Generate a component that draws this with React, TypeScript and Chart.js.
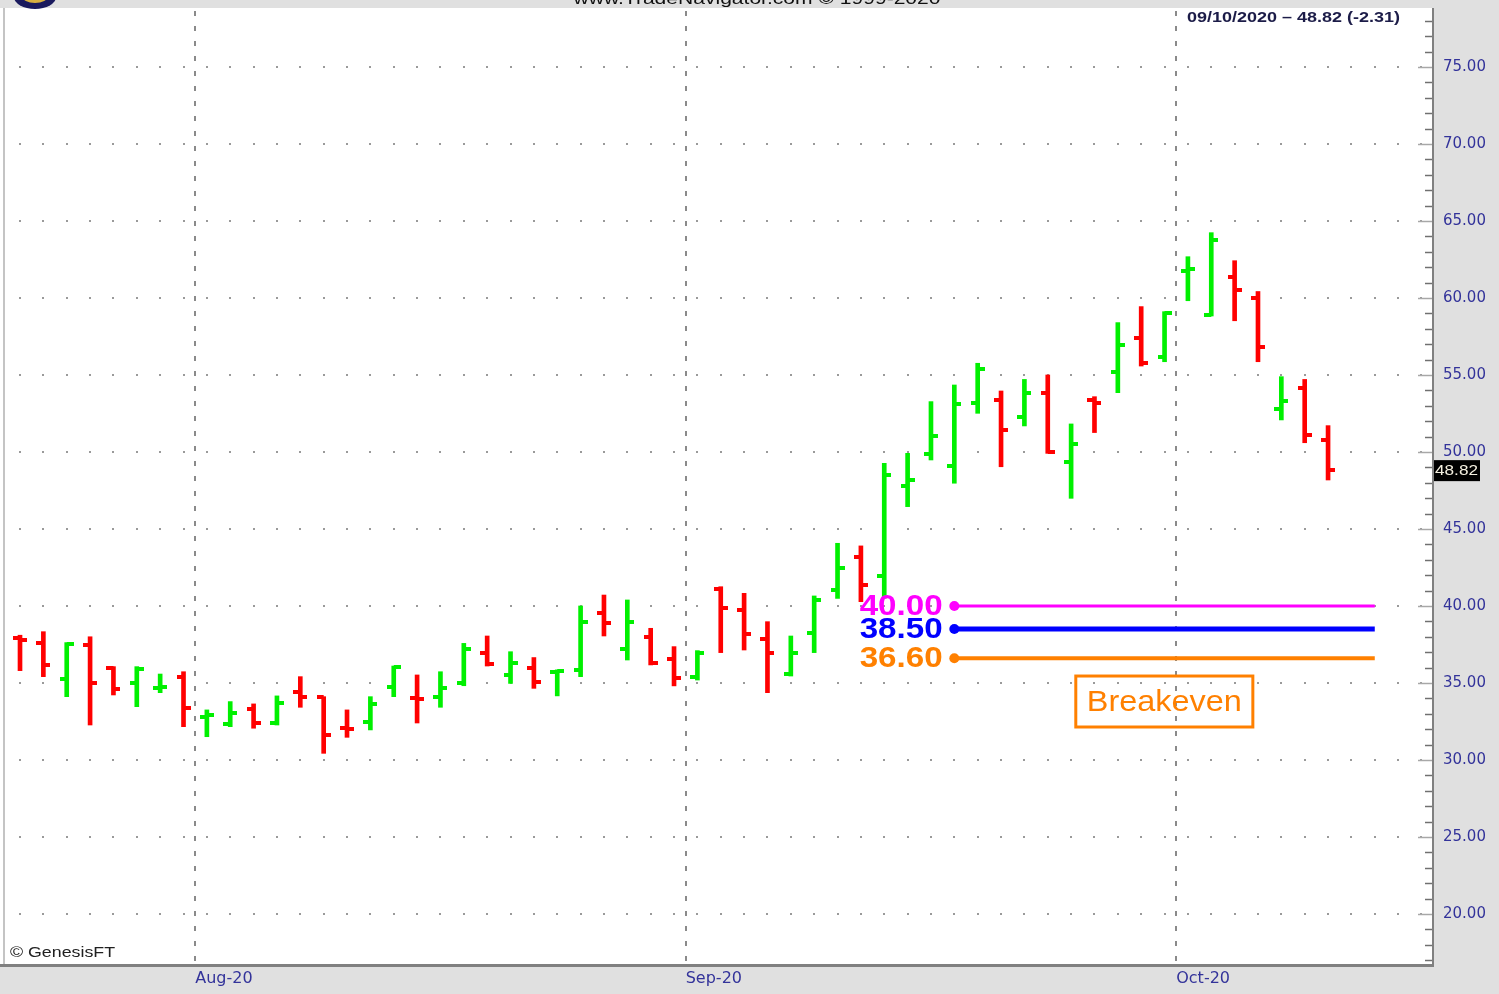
import React, { useEffect, useRef } from 'react';
import { Chart, registerables } from 'chart.js';
Chart.register(...registerables);

// ---- Data (daily OHLC, Jul 21 2020 - Oct 9 2020) ----
const opens = [37.95, 37.62, 35.26, 37.47, 36.0, 34.98, 34.65, 35.41, 32.81, 32.34, 33.29, 32.42, 34.44, 34.07, 32.1, 32.49, 34.76, 34.05, 34.11, 34.97, 36.97, 35.52, 35.95, 35.7, 35.84, 39.56, 37.18, 37.96, 36.53, 35.41, 41.08, 39.74, 37.86, 35.58, 38.22, 41.04, 43.2, 41.95, 47.79, 49.87, 49.09, 53.21, 53.38, 52.29, 53.85, 49.37, 53.4, 55.17, 57.38, 56.14, 61.75, 58.9, 61.38, 59.98, 52.77, 54.13, 50.78];
const highs = [38.1, 38.33, 37.62, 38.0, 36.06, 36.06, 35.58, 35.73, 33.25, 33.79, 33.64, 34.16, 35.41, 34.11, 33.25, 34.11, 36.1, 35.52, 35.73, 37.57, 38.05, 37.03, 36.65, 35.85, 40.0, 40.71, 40.39, 38.55, 37.36, 37.1, 41.25, 40.82, 38.98, 38.05, 40.65, 44.07, 43.9, 49.26, 49.91, 53.27, 54.35, 55.76, 53.96, 54.71, 55.0, 51.82, 53.59, 58.4, 59.44, 59.11, 62.68, 64.24, 62.42, 60.42, 54.89, 54.71, 51.71];
const lows = [35.8, 35.41, 34.11, 32.27, 34.22, 33.46, 34.37, 32.16, 31.51, 32.16, 32.06, 32.27, 33.42, 30.43, 31.47, 31.95, 34.11, 32.4, 33.42, 34.82, 36.1, 34.97, 34.65, 34.16, 35.41, 38.05, 36.49, 36.17, 34.81, 35.19, 36.97, 37.14, 34.37, 35.45, 36.97, 40.49, 40.28, 40.5, 46.45, 49.48, 47.97, 52.51, 49.04, 51.69, 49.91, 46.99, 51.26, 53.85, 55.58, 55.86, 59.82, 58.83, 58.52, 55.86, 52.08, 50.6, 48.18];
const closes = [37.8, 36.17, 37.51, 35.02, 34.59, 35.89, 34.72, 33.35, 32.92, 33.03, 32.42, 33.68, 34.07, 31.62, 32.0, 33.64, 36.06, 33.94, 34.65, 37.18, 36.23, 36.32, 35.08, 35.8, 38.98, 38.87, 38.98, 36.28, 35.3, 36.92, 39.85, 38.18, 36.92, 36.92, 40.39, 42.45, 41.36, 48.5, 48.18, 51.04, 53.12, 55.36, 51.43, 53.85, 50.01, 50.5, 53.21, 56.95, 55.75, 59.0, 61.85, 63.77, 60.52, 56.79, 53.34, 51.13, 48.82];

const monthLabels = ['Aug-20', 'Sep-20', 'Oct-20'];
const monthBoundaries = [7.5, 28.5, 49.5];
const yLabelValues = [20, 25, 30, 35, 40, 45, 50, 55, 60, 65, 70, 75];

const levelValues = [40.0, 38.5, 36.6];
const levelColors = ['#ff00ff', '#0000ff', '#ff8000'];
const levelWidths = [3, 5, 4];
const levelStart = 40;
const levelEnd = 58;
const levelLabelX = 39.5;

const breakevenText = 'Breakeven';
const headerText = '09/10/2020 \u2013 48.82 (-2.31)';
const titleText = 'www.TradeNavigator.com \u00a9 1999-2020';
const creditText = '\u00a9 GenesisFT';
const lastPrice = 48.82;

const yMin = 16.75;
const yMax = 78.83;
const xMin = -0.514;
const xMax = 60.45;

const GREEN = '#00f000';
const RED = '#ff0000';
const AXIS_TEXT = '#33339a';
const PLOT_LEFT = 4;

function tickImg(color: string, side: 'left' | 'right') {
  const c = document.createElement('canvas');
  c.width = 14;
  c.height = 4;
  const g = c.getContext('2d')!;
  g.fillStyle = color;
  g.fillRect(side === 'left' ? 0 : 7, 0, 7, 4);
  return c;
}

function fitText(ctx: CanvasRenderingContext2D, text: string, x: number, y: number, font: string, color: string, width: number, align: 'left' | 'right' | 'center', baseline: CanvasTextBaseline = 'middle') {
  ctx.save();
  ctx.font = font;
  ctx.fillStyle = color;
  ctx.textBaseline = baseline;
  ctx.textAlign = 'left';
  const w = ctx.measureText(text).width;
  const s = width / w;
  const left = align === 'left' ? x : align === 'right' ? x - width : x - width / 2;
  ctx.translate(left, y);
  ctx.scale(s, 1);
  ctx.fillText(text, 0, 0);
  ctx.restore();
}

export default function App() {
  const ref = useRef<HTMLCanvasElement>(null);

  useEffect(() => {
    const canvas = ref.current!;
    const up = opens.map((o, i) => closes[i] >= o);
    const colors = up.map((u) => (u ? GREEN : RED));
    const imgs = {
      lg: tickImg(GREEN, 'left'),
      lr: tickImg(RED, 'left'),
      rg: tickImg(GREEN, 'right'),
      rr: tickImg(RED, 'right'),
    };

    const bgPlugin = {
      id: 'bg',
      beforeDraw(chart: any) {
        const { ctx, chartArea: a, width, height } = chart;
        ctx.save();
        ctx.fillStyle = '#e0e0e0';
        ctx.fillRect(0, 0, width, height);
        ctx.fillStyle = '#ffffff';
        ctx.fillRect(0, a.top, a.right, a.bottom - a.top);
        ctx.restore();
      },
      beforeDatasetsDraw(chart: any) {
        const { ctx, chartArea: a, scales } = chart;
        const xs = scales.x;
        const ys = scales.y;
        ctx.save();
        // dotted horizontal grid
        ctx.fillStyle = '#9a9a9a';
        yLabelValues.forEach((v) => {
          const py = Math.round(ys.getPixelForValue(v));
          for (let i = 0; i <= 60; i++) {
            const px = xs.getPixelForValue(i);
            if (px > a.right - 8) break;
            ctx.fillRect(Math.round(px) - 1, py - 1, 2, 2);
          }
        });
        // dashed month lines
        ctx.strokeStyle = '#8a8a8a';
        ctx.lineWidth = 2;
        ctx.setLineDash([5, 10]);
        monthBoundaries.forEach((b) => {
          const px = Math.round(xs.getPixelForValue(b));
          ctx.beginPath();
          ctx.moveTo(px, a.top + 3);
          ctx.lineTo(px, a.bottom);
          ctx.stroke();
        });
        ctx.restore();
      },
      afterDraw(chart: any) {
        const { ctx, chartArea: a, scales } = chart;
        const xs = scales.x;
        const ys = scales.y;
        ctx.save();
        // borders
        ctx.fillStyle = '#c4c4c4';
        ctx.fillRect(PLOT_LEFT - 1, a.top, 2, a.bottom - a.top);
        ctx.fillStyle = '#808080';
        ctx.fillRect(a.right, a.top, 2, a.bottom - a.top + 3);
        ctx.fillRect(0, a.bottom, a.right + 2, 3);
        // y ticks (minor every 1, major every 5) pointing inward
        for (let v = 17; v <= 78; v++) {
          const py = Math.round(ys.getPixelForValue(v)) + 0.5;
          const major = v % 5 === 0;
          ctx.strokeStyle = major ? '#a8a8a8' : '#707070';
          ctx.lineWidth = 1.5;
          ctx.beginPath();
          ctx.moveTo(a.right - (major ? 14 : 7), py);
          ctx.lineTo(a.right, py);
          ctx.stroke();
        }
        // level labels
        levelValues.forEach((v, i) => {
          const px = xs.getPixelForValue(levelLabelX);
          const py = ys.getPixelForValue(v);
          fitText(ctx, v.toFixed(2), px, py + 1, 'bold 29px "Liberation Sans"', levelColors[i], 83, 'right');
        });
        // breakeven box
        const bx1 = xs.getPixelForValue(45.2);
        const bx2 = xs.getPixelForValue(52.78);
        const by1 = ys.getPixelForValue(35.45);
        const by2 = ys.getPixelForValue(32.14);
        ctx.strokeStyle = '#ff8000';
        ctx.lineWidth = 3;
        ctx.setLineDash([]);
        ctx.strokeRect(bx1, by1, bx2 - bx1, by2 - by1);
        fitText(ctx, breakevenText, (bx1 + bx2) / 2, (by1 + by2) / 2 + 1, '29px "Liberation Sans"', '#ff8000', 155, 'center');
        // last price box
        const lp = ys.getPixelForValue(lastPrice);
        ctx.fillStyle = '#000000';
        ctx.fillRect(a.right + 2, lp - 10, 46, 21);
        fitText(ctx, lastPrice.toFixed(2), a.right + 3, lp + 1, '15px "Liberation Sans"', '#f4f0e0', 43, 'left');
        // header & credits
        fitText(ctx, headerText, 1187, 18, 'bold 14px "Liberation Sans"', '#1c1c48', 213, 'left');
        fitText(ctx, creditText, 10, 953, '14px "Liberation Sans"', '#202020', 105, 'left');
        fitText(ctx, titleText, 757, 4, '16px "Liberation Sans"', '#101010', 367, 'center', 'alphabetic');
        // logo
        ctx.fillStyle = '#1a1a5e';
        ctx.beginPath();
        ctx.ellipse(35, -3, 21, 12, 0, 0, Math.PI * 2);
        ctx.fill();
        ctx.fillStyle = '#d8b040';
        ctx.beginPath();
        ctx.ellipse(35, -4, 13, 7, 0, 0, Math.PI * 2);
        ctx.fill();
        ctx.restore();
      },
    };

    const chart = new Chart(canvas, {
      type: 'bar',
      data: {
        datasets: [
          {
            type: 'bar',
            data: lows.map((l, i) => ({ x: i, y: [l, highs[i]] })) as any,
            backgroundColor: colors,
            borderWidth: 0,
            barThickness: 4,
            order: 3,
          } as any,
          {
            type: 'scatter',
            data: opens.map((o, i) => ({ x: i, y: o })),
            pointStyle: ((c: any) => (up[c.dataIndex] ? imgs.lg : imgs.lr)) as any,
            pointRadius: 7,
            showLine: false,
            order: 2,
          } as any,
          {
            type: 'scatter',
            data: closes.map((c, i) => ({ x: i, y: c })),
            pointStyle: ((c: any) => (up[c.dataIndex] ? imgs.rg : imgs.rr)) as any,
            pointRadius: 7,
            showLine: false,
            order: 2,
          } as any,
          ...levelValues.map((v, i) => ({
            type: 'line',
            data: [
              { x: levelStart, y: v },
              { x: levelEnd, y: v },
            ],
            borderColor: levelColors[i],
            borderWidth: levelWidths[i],
            pointRadius: (c: any) => (c.dataIndex === 0 ? 5 : 0),
            pointBackgroundColor: levelColors[i],
            pointBorderWidth: 0,
            fill: false,
            order: 1,
          })) as any,
        ],
      },
      options: {
        animation: false,
        responsive: false,
        devicePixelRatio: 1,
        events: [],
        layout: { padding: { left: 0, top: 8, right: 0, bottom: 0 } },
        plugins: { legend: { display: false }, tooltip: { enabled: false } },
        scales: {
          x: {
            type: 'linear',
            offset: false,
            min: xMin,
            max: xMax,
            grid: { display: false, drawTicks: false, offset: false },
            border: { display: false },
            afterBuildTicks: (s: any) => {
              s.ticks = monthBoundaries.map((v) => ({ value: v }));
            },
            afterFit: (s: any) => {
              s.height = 30;
              s.paddingLeft = 0;
              s.paddingRight = 0;
            },
            ticks: {
              autoSkip: false,
              maxRotation: 0,
              align: 'start',
              padding: 5,
              color: AXIS_TEXT,
              font: { family: 'DejaVu Sans', size: 16 },
              callback: (v: any) => {
                const k = monthBoundaries.indexOf(Number(v));
                return k >= 0 ? monthLabels[k] : '';
              },
            },
          } as any,
          y: {
            type: 'linear',
            position: 'right',
            min: yMin,
            max: yMax,
            grid: { display: false, drawTicks: false },
            border: { display: false },
            afterBuildTicks: (s: any) => {
              s.ticks = yLabelValues.map((v) => ({ value: v }));
            },
            afterFit: (s: any) => {
              s.width = 67;
              s.paddingTop = 0;
              s.paddingBottom = 0;
            },
            ticks: {
              autoSkip: false,
              padding: 11,
              color: AXIS_TEXT,
              font: { family: 'DejaVu Sans', size: 15 },
              callback: (v: any) => Number(v).toFixed(2),
            },
          } as any,
        },
      },
      plugins: [bgPlugin],
    });

    return () => chart.destroy();
  }, []);

  return (
    <div style={{ position: 'fixed', left: 0, top: 0, width: 1499, height: 994 }}>
      <canvas ref={ref} width={1499} height={994} style={{ width: 1499, height: 994, display: 'block' }} />
    </div>
  );
}
